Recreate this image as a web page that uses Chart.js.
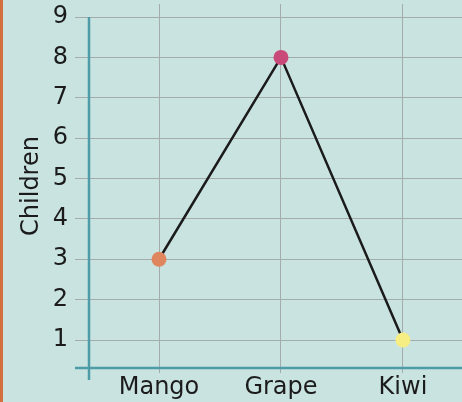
<!DOCTYPE html>
<html>
<head>
<meta charset="utf-8">
<script src="https://cdn.jsdelivr.net/npm/chart.js@4/dist/chart.umd.min.js"></script>
<style>
  html, body { margin: 0; padding: 0; background: #c9e3e1; }
  #wrap { width: 459px; height: 402px; border-left: 3px solid #d4703f; }
</style>
</head>
<body>
<div id="wrap"><canvas id="chart" width="459" height="402"></canvas></div>
<script>
const fruits = ['Mango', 'Grape', 'Kiwi'];
const children = [3, 8, 1];
const pointColors = ['#e0865f', '#c94a78', '#f6ee82'];
const yTicks = [1, 2, 3, 4, 5, 6, 7, 8, 9];

const labelFont = { family: 'DejaVu Sans', size: 24 };

// axis lines drawn a bit past the plot, like the original
const axisLines = {
    id: 'axisLines',
    afterDatasetsDraw(c) {
        const ctx = c.ctx, x = c.scales.x, y = c.scales.y;
        ctx.save();
        ctx.strokeStyle = '#4e9ca7';
        ctx.lineWidth = 2.5;
        ctx.beginPath();
        ctx.moveTo(x.left, y.getPixelForValue(9));
        ctx.lineTo(x.left, y.bottom + 12);
        ctx.moveTo(x.left - 14, y.bottom);
        ctx.lineTo(c.width, y.bottom);
        ctx.stroke();
        ctx.restore();
    }
};

const chart = document.querySelector('#chart').getContext('2d');

new Chart(chart, {
    type: 'line',
    data: {
        datasets: [{
            data: children.map((v, i) => ({ x: i, y: v })),
            borderColor: '#1b1b1b',
            borderWidth: 2.5,
            pointBackgroundColor: pointColors,
            pointBorderWidth: 0,
            pointRadius: 7.5,
            tension: 0
        }]
    },
    options: {
        responsive: false,
        animation: false,
        layout: { autoPadding: false, padding: { top: 4, right: 0 } },
        plugins: { legend: { display: false }, tooltip: { enabled: false } },
        scales: {
            x: {
                type: 'linear',
                min: -0.574,
                max: 2.484,
                afterBuildTicks: s => { s.ticks = fruits.map((f, i) => ({ value: i })); },
                afterFit: s => { s.height = 34; s.paddingLeft = 0; s.paddingRight = 0; },
                ticks: {
                    callback: v => fruits[v],
                    color: '#1b1b1b',
                    font: labelFont,
                    padding: 0,
                    maxRotation: 0
                },
                grid: { color: '#a3abab', lineWidth: 1, tickLength: 5 },
                border: { display: false }
            },
            y: {
                min: 0.307,
                max: 9.322,
                afterBuildTicks: s => { s.ticks = yTicks.map(v => ({ value: v })); },
                afterFit: s => { s.width = 86; s.paddingTop = 0; s.paddingBottom = 0; },
                ticks: {
                    color: '#1b1b1b',
                    font: labelFont,
                    padding: 7
                },
                grid: { color: '#a3abab', lineWidth: 1, tickLength: 14 },
                border: { display: false },
                title: {
                    display: true,
                    text: 'Children',
                    color: '#1b1b1b',
                    font: labelFont,
                    padding: { top: 14, bottom: 0 }
                }
            }
        }
    },
    plugins: [axisLines]
});
</script>
</body>
</html>
